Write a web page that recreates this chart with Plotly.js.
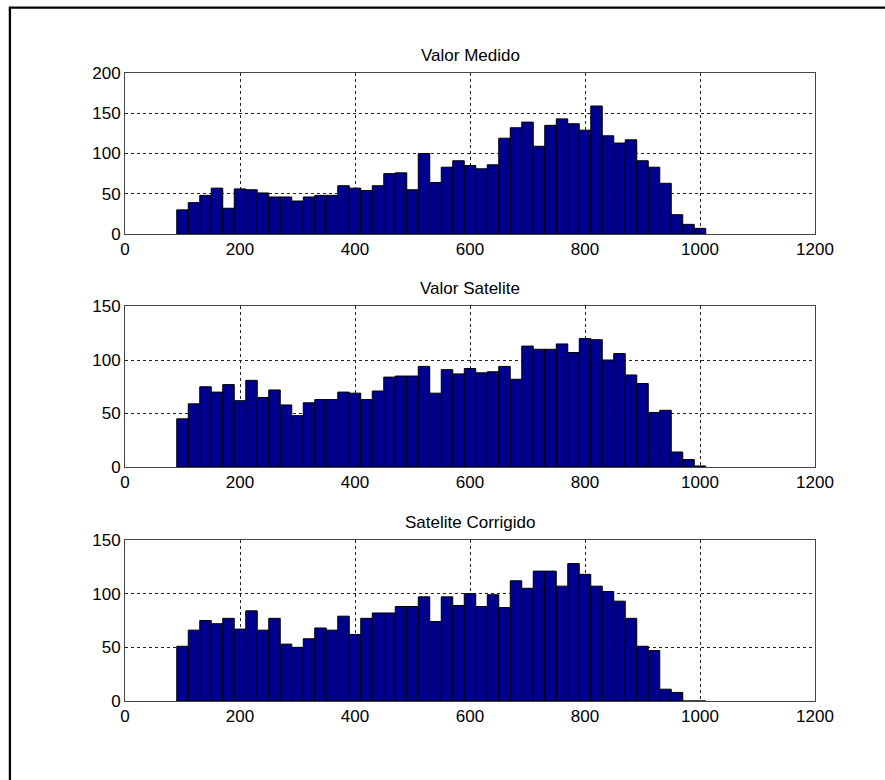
<!DOCTYPE html>
<html>
<head>
<meta charset="utf-8">
<script src="https://cdn.plot.ly/plotly-3.0.1.min.js"></script>
<style>html,body{margin:0;padding:0;background:#fff;}#chart{width:885px;height:780px;}</style>
</head>
<body>
<div id="chart"></div>
<script>
// Bin centres (bin width 20)
const binCenters = [100,120,140,160,180,200,220,240,260,280,300,320,340,360,380,400,420,440,460,480,500,520,540,560,580,600,620,640,660,680,700,720,740,760,780,800,820,840,860,880,900,920,940,960,980,1000];

const valorMedido = [30,39,48,57,32,56,55,51,46,46,41,46,48,48,60,57,54,60,75,76,55,100,64,83,91,85,81,86,119,132,139,109,135,143,137,129,159,122,113,117,91,83,63,24,12,7];
const valorSatelite = [45,59,75,70,77,62,81,65,72,58,48,60,63,63,70,69,63,71,84,85,85,94,69,91,87,92,88,89,94,82,113,110,110,115,107,120,119,100,106,86,78,51,53,14,7,1];
const sateliteCorrigido = [51,66,75,72,77,67,84,66,77,53,50,58,68,66,79,62,77,82,82,88,88,97,74,97,89,100,88,99,87,112,105,121,121,107,128,118,107,102,93,77,51,47,11,8,0,0];

const titles = ["Valor Medido", "Valor Satelite", "Satelite Corrigido"];
const xTicks = [0,200,400,600,800,1000,1200];
const yTicks1 = [0,50,100,150,200];
const yTicks23 = [0,50,100,150];

const barColor = "#00008f";
const font = {family: "Liberation Sans, Arial, sans-serif", size: 17, color: "#000"};

function bar(y, xa, ya) {
  return {
    type: "bar", x: binCenters, y: y, width: 20, xaxis: xa, yaxis: ya,
    marker: {color: barColor, line: {color: "#000", width: 1}},
    hoverinfo: "x+y", showlegend: false
  };
}

const data = [
  bar(valorMedido, "x", "y"),
  bar(valorSatelite, "x2", "y2"),
  bar(sateliteCorrigido, "x3", "y3")
];

function xaxis(anchor) {
  return {
    range: [0, 1200], tickvals: xTicks, ticktext: xTicks.map(String),
    showgrid: true, gridcolor: "#222", griddash: "3px,3px", gridwidth: 1,
    zeroline: false, showline: true, mirror: true, linecolor: "#444", linewidth: 1,
    ticks: "", anchor: anchor, domain: [0, 1], tickfont: font, fixedrange: true
  };
}
function yaxis(anchor, domain, range, ticks) {
  return {
    range: range, tickvals: ticks, ticktext: ticks.map(String),
    showgrid: true, gridcolor: "#222", griddash: "3px,3px", gridwidth: 1,
    zeroline: false, showline: true, mirror: true, linecolor: "#444", linewidth: 1,
    ticks: "", anchor: anchor, domain: domain, tickfont: font, fixedrange: true
  };
}

const domains = [[0.7436, 1], [0.3726, 0.6282], [0, 0.2564]];

const layout = {
  width: 885, height: 780,
  margin: {l: 125, r: 70, t: 73, b: 79},
  paper_bgcolor: "#fff", plot_bgcolor: "#fff",
  bargap: 0,
  font: font,
  xaxis: xaxis("y"), yaxis: yaxis("x", domains[0], [0, 200], yTicks1),
  xaxis2: xaxis("y2"), yaxis2: yaxis("x2", domains[1], [0, 150], yTicks23),
  xaxis3: xaxis("y3"), yaxis3: yaxis("x3", domains[2], [0, 150], yTicks23),
  annotations: titles.map((t, i) => ({
    text: t, xref: "paper", yref: "paper", x: 0.5, y: domains[i][1],
    xanchor: "center", yanchor: "bottom", yshift: 6, showarrow: false,
    font: font
  })),
  shapes: [{
    type: "rect", xref: "paper", yref: "paper",
    x0: -0.1668, x1: 1.3, y0: -0.3, y1: 1.104,
    line: {color: "#000", width: 2.3}, layer: "above"
  }]
};

Plotly.newPlot("chart", data, layout, {displayModeBar: false, staticPlot: true});
</script>
</body>
</html>
